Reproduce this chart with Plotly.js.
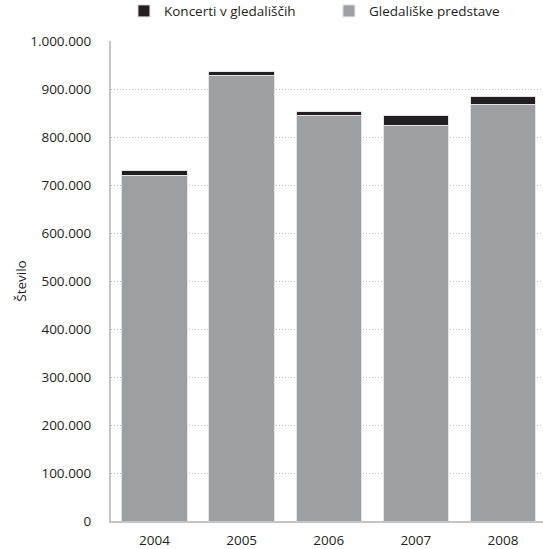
<!DOCTYPE html>
<html>
<head>
<meta charset="utf-8">
<script src="https://cdn.plot.ly/plotly-3.0.1.min.js"></script>
<style>html,body{margin:0;padding:0;background:#fff;}#chart{width:543px;height:549px;}</style>
</head>
<body>
<div id="chart"></div>
<script>
var years = ['2004', '2005', '2006', '2007', '2008'];
var predstave = [719000, 929000, 844000, 823000, 867000];
var koncerti = [11000, 8500, 10000, 21000, 18000];
var yTickVals = [0, 100000, 200000, 300000, 400000, 500000, 600000, 700000, 800000, 900000, 1000000];

var font = 'Open Sans, Lato, sans-serif';

var traces = [
  {
    type: 'bar', name: 'Gledališke predstave', x: years, y: predstave,
    marker: {color: '#9d9fa2', line: {color: '#e4e4e4', width: 1}},
    hoverinfo: 'skip'
  },
  {
    type: 'bar', name: 'Koncerti v gledališčih', x: years, y: koncerti,
    marker: {color: '#231f20', line: {color: '#e4e4e4', width: 1}},
    hoverinfo: 'skip'
  }
];

var layout = {
  width: 543, height: 549,
  margin: {l: 111, r: 0, t: 41, b: 28, pad: 0, autoexpand: false},
  paper_bgcolor: '#fff', plot_bgcolor: '#fff',
  barmode: 'stack', bargap: 0.25,
  separators: ',.',
  font: {family: font, size: 13.5, color: '#231f20'},
  showlegend: true,
  legend: {
    orientation: 'h', x: 0.03, y: 1.03, xanchor: 'left', yanchor: 'bottom',
    traceorder: 'reversed', font: {family: font, size: 13.5, color: '#231f20'},
    itemwidth: 30, entrywidth: 160, entrywidthmode: 'pixels'
  },
  xaxis: {
    type: 'category', range: [-0.5, 4.46],
    showline: true, linecolor: '#c4c4c6', linewidth: 2,
    ticks: '', showgrid: false, zeroline: false, ticklabelstandoff: 6,
    tickfont: {family: font, size: 13.5, color: '#231f20'}, automargin: false
  },
  yaxis: {
    range: [0, 1000000], tickvals: yTickVals, tickformat: ',d',
    showline: true, linecolor: '#c4c4c6', linewidth: 2,
    ticks: '', showgrid: true, gridcolor: '#bdbdbd', griddash: '1px,2px', gridwidth: 1,
    zeroline: false, automargin: false, ticklabelstandoff: 15,
    tickfont: {family: font, size: 13.5, color: '#231f20'},
    title: {text: 'Število', font: {family: font, size: 13.5, color: '#231f20'}, standoff: 0}
  }
};

Plotly.newPlot('chart', traces, layout, {displayModeBar: false, staticPlot: true});
</script>
</body>
</html>
